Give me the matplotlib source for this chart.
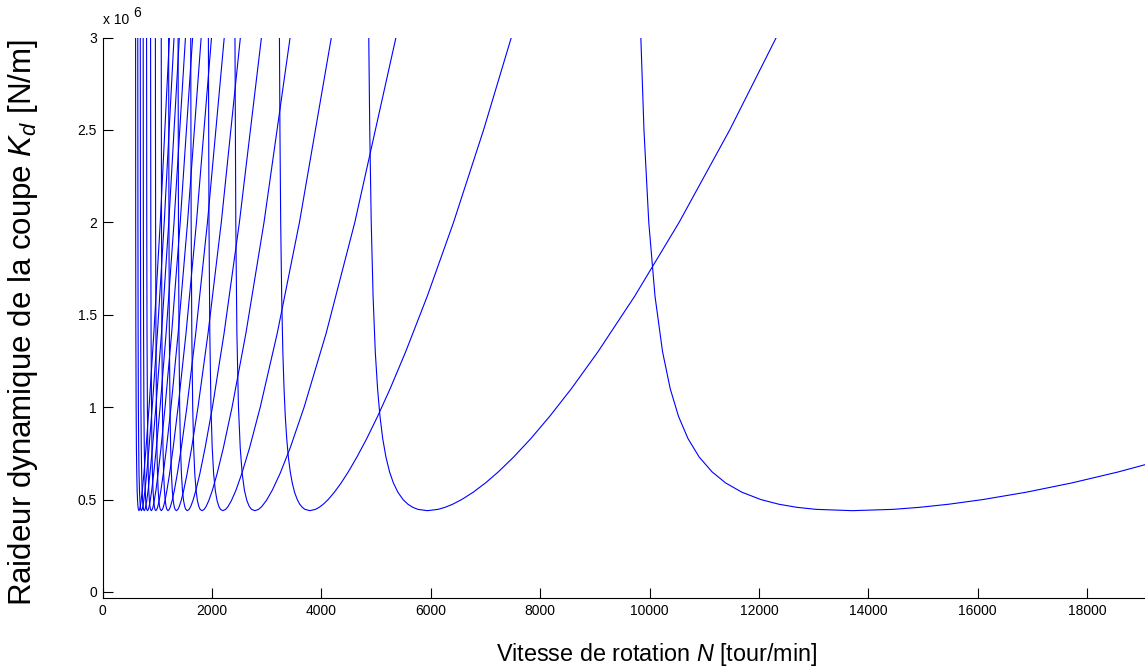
import numpy as np
import matplotlib
matplotlib.use('Agg')
import matplotlib.pyplot as plt

plt.rcParams['font.family'] = ['Liberation Sans', 'DejaVu Sans']
plt.rcParams['mathtext.fontset'] = 'custom'
plt.rcParams['mathtext.rm'] = 'Liberation Sans'
plt.rcParams['mathtext.it'] = 'Liberation Sans:italic'

# lobes de stabilite : Kd (x 10^6 N/m) le long de chaque branche
kd_big = [3.0, 2.5, 2.0, 1.6, 1.3, 1.1, 0.95, 0.83, 0.73, 0.65, 0.59, 0.54, 0.5, 0.475, 0.458, 0.447]
kd_small = [3.0, 2.0, 1.4, 1.0, 0.78, 0.64, 0.55, 0.495, 0.462, 0.447]
kd_min = 0.44

# vitesse N [tour/min], branche gauche (Kd decroissant), fond du lobe, branche droite (Kd croissant)
n_left = [
    [9840, 9897, 9985, 10099, 10237, 10377, 10529, 10702, 10907, 11142, 11390, 11686, 12034, 12361, 12695, 13048],
    [4866, 4884, 4911, 4945, 4985, 5027, 5071, 5121, 5180, 5246, 5316, 5398, 5493, 5581, 5671, 5765],
    [3233, 3242, 3256, 3274, 3295, 3317, 3340, 3366, 3396, 3431, 3467, 3509, 3559, 3604, 3651, 3699],
    [2420, 2435, 2455, 2484, 2516, 2552, 2593, 2637, 2683, 2724],
    [1934, 1945, 1960, 1981, 2004, 2030, 2060, 2092, 2126, 2155],
    [1611, 1619, 1631, 1647, 1665, 1685, 1709, 1733, 1760, 1783],
    [1380, 1387, 1396, 1409, 1424, 1441, 1460, 1480, 1502, 1521],
    [1207, 1213, 1220, 1232, 1244, 1258, 1274, 1291, 1309, 1325],
    [1072, 1077, 1084, 1094, 1104, 1116, 1130, 1145, 1161, 1175],
    [965, 969, 975, 984, 993, 1004, 1016, 1029, 1042, 1055],
    [877, 881, 886, 894, 902, 911, 922, 934, 946, 957],
    [804, 807, 812, 819, 826, 835, 844, 855, 866, 876],
    [742, 745, 749, 755, 762, 770, 779, 788, 798, 807],
    [689, 692, 696, 701, 707, 714, 723, 731, 741, 749],
    [643, 646, 649, 654, 660, 666, 674, 682, 691, 698],
    [603, 605, 608, 613, 618, 625, 631, 639, 647, 654],
]
n_bottom = [13704, 5938, 3790, 2783, 2199, 1817, 1549, 1349, 1195, 1073, 973, 891, 821, 761, 710, 665]
n_right = [
    [14448, 14935, 15473, 16091, 16889, 17718, 18574, 19572, 20673, 21853, 23183, 24784, 26939, 29507, 32388, 35011],
    [6132, 6260, 6401, 6564, 6776, 7000, 7235, 7514, 7829, 8173, 8570, 9057, 9727, 10540, 11465, 12316],
    [3892, 3960, 4035, 4123, 4238, 4361, 4492, 4649, 4829, 5027, 5257, 5541, 5935, 6416, 6965, 7472],
    [2851, 2909, 2994, 3101, 3243, 3430, 3684, 4087, 4611, 5363],
    [2249, 2292, 2356, 2437, 2544, 2687, 2882, 3193, 3599, 4182],
    [1857, 1891, 1942, 2007, 2093, 2208, 2367, 2620, 2951, 3428],
    [1581, 1610, 1652, 1706, 1778, 1874, 2008, 2221, 2501, 2904],
    [1377, 1401, 1437, 1483, 1545, 1628, 1744, 1928, 2170, 2519],
    [1219, 1240, 1272, 1312, 1366, 1439, 1541, 1703, 1917, 2224],
    [1094, 1113, 1141, 1176, 1225, 1290, 1380, 1525, 1716, 1991],
    [992, 1009, 1034, 1066, 1109, 1168, 1250, 1381, 1553, 1802],
    [908, 923, 945, 975, 1014, 1068, 1142, 1262, 1419, 1646],
    [836, 850, 871, 898, 934, 983, 1051, 1161, 1306, 1515],
    [776, 788, 807, 832, 865, 911, 974, 1076, 1210, 1403],
    [723, 735, 752, 775, 806, 848, 907, 1002, 1127, 1306],
    [677, 688, 704, 726, 755, 794, 849, 937, 1054, 1222],
]

fig = plt.figure(figsize=(11.45, 6.68), dpi=100)
ax = fig.add_axes([102.6/1145, 1-598/668, 1-102.6/1145, 560.5/668])

for i in range(len(n_left)):
    lev = kd_big if len(n_left[i]) == len(kd_big) else kd_small
    n = n_left[i] + [n_bottom[i]] + n_right[i]
    kd = lev + [kd_min] + lev[::-1]
    ax.plot(n, np.array(kd)*1e6, color='blue', lw=0.8)

ax.set_xlim(0, 19057)
ax.set_ylim(-0.0325e6, 3e6)
ax.set_xticks(np.arange(0, 19000, 2000))
ax.set_yticks(np.arange(0, 3.01e6, 0.5e6))
ax.set_yticklabels(['0', '0.5', '1', '1.5', '2', '2.5', '3'])
for s in ['top', 'right']:
    ax.spines[s].set_visible(False)
ax.tick_params(direction='in', length=7.5, width=0.8, labelsize=10, pad=4)

ax.text(0.0, 1.031, 'x 10', transform=ax.transAxes, fontsize=10, ha='left', va='center')
ax.text(0.0295, 1.044, '6', transform=ax.transAxes, fontsize=10, ha='left', va='center')
fig.text(657/1145, 1-654/668, 'Vitesse de rotation $N$ [tour/min]', fontsize=16.8, ha='center', va='center')
fig.text(23/1145, 1-323/668, 'Raideur dynamique de la coupe $K_d$ [N/m]', fontsize=22.5,
         ha='center', va='center', rotation=90)

fig.savefig('out.png')
